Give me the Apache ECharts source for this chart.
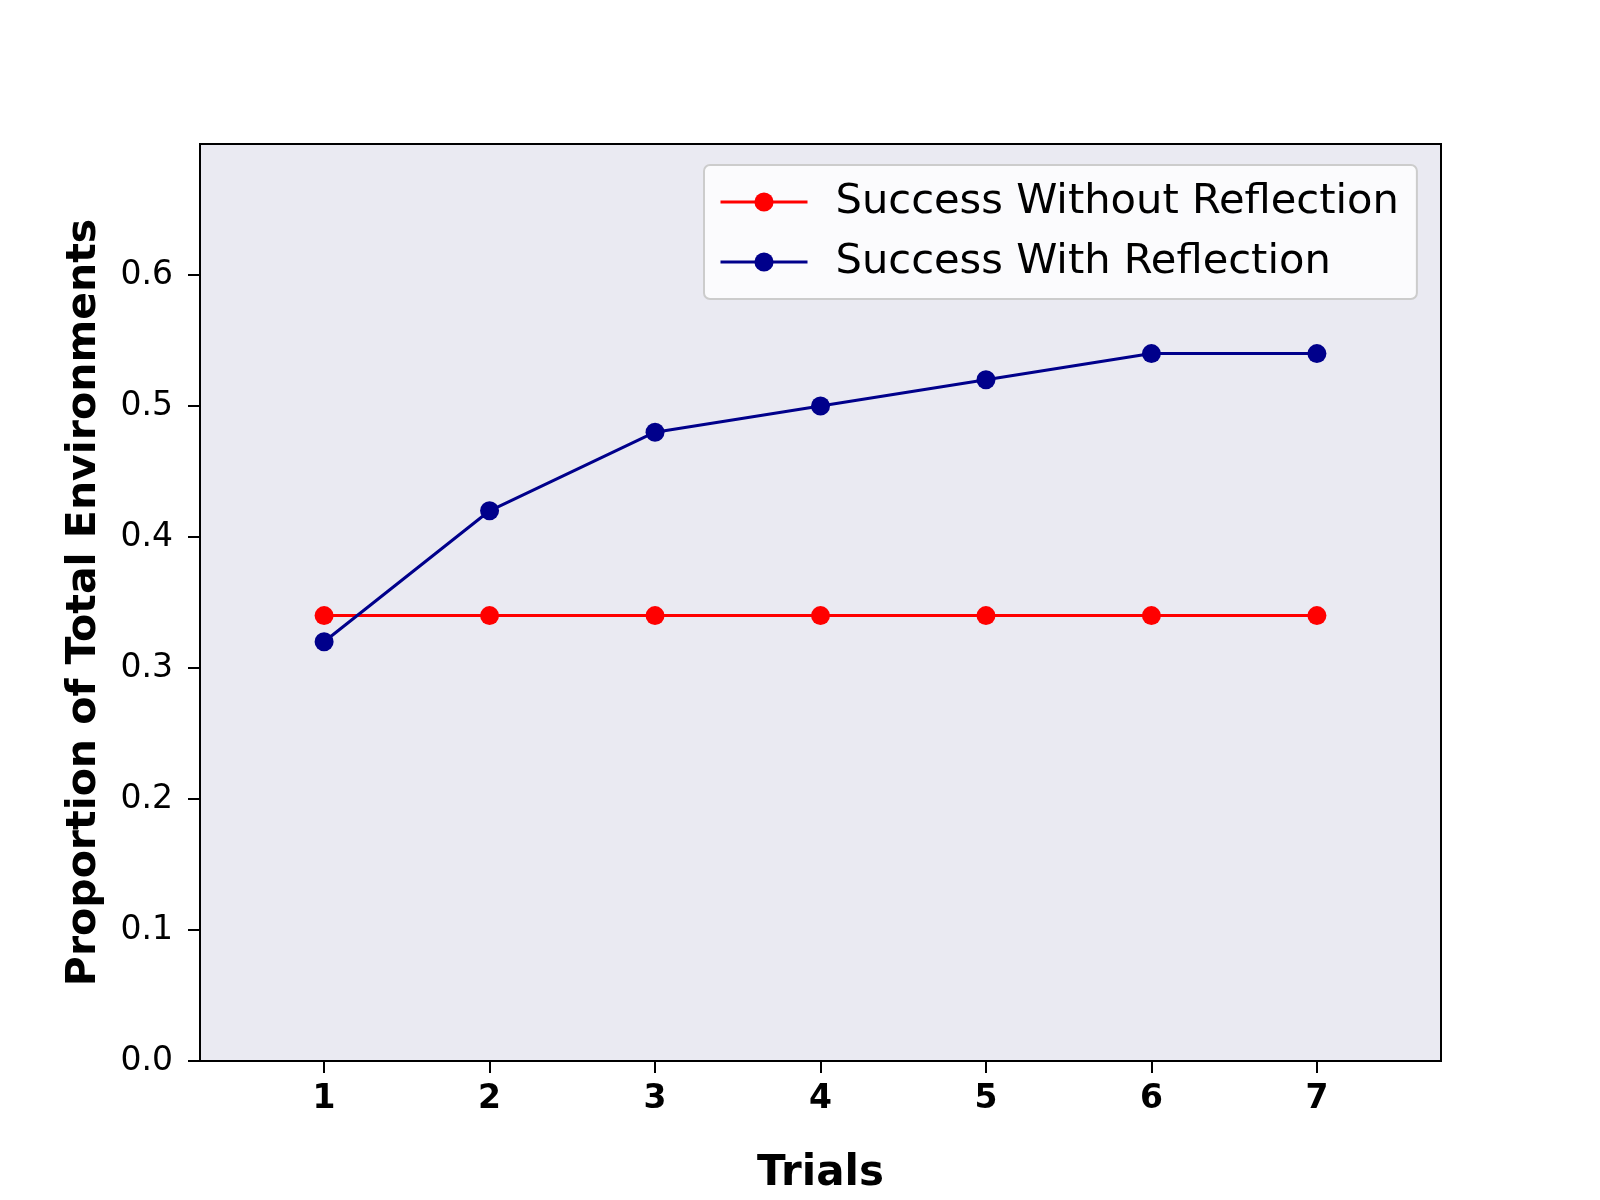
<!DOCTYPE html>
<html>
<head>
<meta charset="utf-8">
<script src="https://cdn.jsdelivr.net/npm/echarts@6/dist/echarts.min.js"></script>
<style>html,body{margin:0;padding:0;background:#fff}#c{width:1600px;height:1200px}</style>
</head>
<body>
<div id="c"></div>
<script>
const trials = [1, 2, 3, 4, 5, 6, 7];
const withoutReflection = [0.34, 0.34, 0.34, 0.34, 0.34, 0.34, 0.34];
const withReflection = [0.32, 0.42, 0.48, 0.50, 0.52, 0.54, 0.54];
const yTicks = [0, 0.1, 0.2, 0.3, 0.4, 0.5, 0.6];
const seriesNames = ['Success Without Reflection', 'Success With Reflection'];

const font = 'DejaVu Sans';
const chart = echarts.init(document.getElementById('c'));
const pairs = arr => trials.map((t, i) => [t, arr[i]]);
chart.setOption({
  animation: false,
  grid: {
    left: 200, right: 159, top: 144, bottom: 132,
    show: true, backgroundColor: '#EAEAF2', borderColor: '#000', borderWidth: 2
  },
  legend: {
    orient: 'vertical',
    left: 704, top: 165,
    padding: [12, 18, 12, 15],
    itemGap: 10,
    itemWidth: 87, itemHeight: 24,
    backgroundColor: 'rgba(255,255,255,0.8)',
    borderColor: '#CCCCCC', borderWidth: 2, borderRadius: 6,
    lineStyle: { width: 3 },
    textStyle: { fontFamily: font, fontSize: 41.6, color: '#000', lineHeight: 50, padding: [0, 0, 0, 23] },
    data: seriesNames
  },
  xAxis: {
    type: 'value', min: 0.25, max: 7.75,
    name: 'Trials', nameLocation: 'middle', nameGap: 92,
    nameTextStyle: { fontFamily: font, fontSize: 42, fontWeight: 'bold', color: '#000' },
    splitLine: { show: false },
    axisLine: { show: true, lineStyle: { color: '#000', width: 2 } },
    axisTick: { show: true, inside: false, length: 12, lineStyle: { color: '#000', width: 2 }, customValues: trials },
    axisLabel: { fontFamily: font, fontSize: 33, fontWeight: 'bold', color: '#000', margin: 22, customValues: trials }
  },
  yAxis: {
    type: 'value', min: 0, max: 0.7,
    name: 'Proportion of Total Environments', nameLocation: 'middle', nameGap: 95, nameRotate: 90,
    nameTextStyle: { fontFamily: font, fontSize: 41, fontWeight: 'bold', color: '#000' },
    splitLine: { show: false },
    axisLine: { show: true, lineStyle: { color: '#000', width: 2 } },
    axisTick: { show: true, inside: false, length: 12, lineStyle: { color: '#000', width: 2 }, customValues: yTicks },
    axisLabel: { fontFamily: font, fontSize: 33, color: '#000', margin: 27, customValues: yTicks,
      formatter: v => v.toFixed(1) }
  },
  series: [
    {
      name: seriesNames[0], type: 'line', data: pairs(withoutReflection),
      symbol: 'circle', symbolSize: 19,
      lineStyle: { color: '#FF0000', width: 3 }, itemStyle: { color: '#FF0000' }
    },
    {
      name: seriesNames[1], type: 'line', data: pairs(withReflection),
      symbol: 'circle', symbolSize: 19,
      lineStyle: { color: '#00008B', width: 3 }, itemStyle: { color: '#00008B' }
    }
  ]
});
</script>
</body>
</html>
